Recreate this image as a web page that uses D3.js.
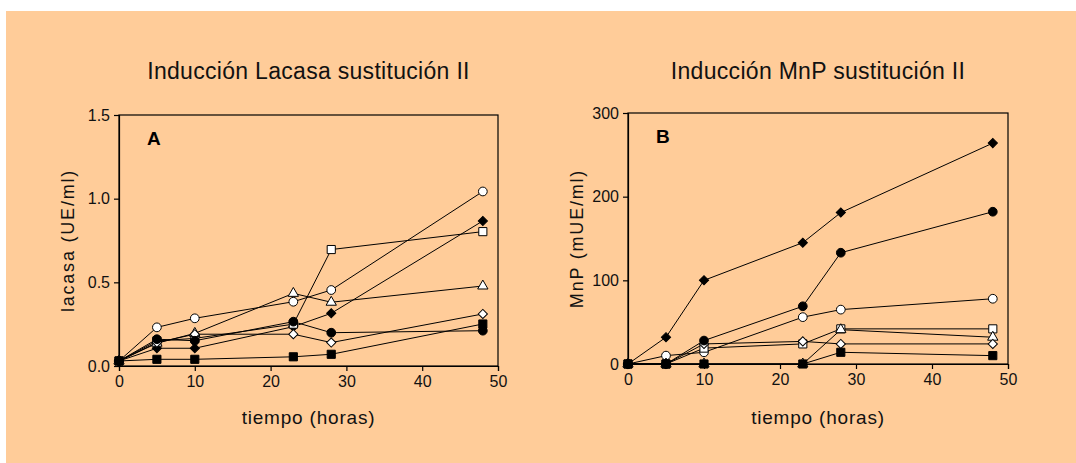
<!DOCTYPE html>
<html><head><meta charset="utf-8">
<script src="https://cdn.jsdelivr.net/npm/d3@7"></script>
<style>html,body{margin:0;padding:0;background:#fff;}svg{display:block;}</style>
</head><body>
<svg id="c" width="1076" height="463"></svg>
<script>
const times = [0, 5, 10, 23, 28, 48];
const xTicks = [0, 10, 20, 30, 40, 50];
const yTicksA = [0, 0.5, 1.0, 1.5];
const yTicksB = [0, 100, 200, 300];
const seriesNames = ["openCircle","filledDiamond","openSquare","openTriangle","openDiamond","filledCircle","filledSquare"];
// Panel A: lacasa (UE/ml)
const lacOpenCircle    = [0.03, 0.231, 0.285, 0.384, 0.454, 1.043];
const lacFilledDiamond = [0.03, 0.106, 0.106, 0.235, 0.315, 0.867];
const lacOpenSquare    = [0.03, 0.150, 0.165, 0.250, 0.696, 0.803];
const lacOpenTriangle  = [0.03, 0.136, 0.195, 0.434, 0.381, 0.478];
const lacOpenDiamond   = [0.03, 0.140, 0.190, 0.190, 0.140, 0.311];
const lacFilledCircle  = [0.03, 0.160, 0.151, 0.265, 0.199, 0.211];
const lacFilledSquare  = [0.03, 0.040, 0.040, 0.055, 0.070, 0.251];
// Panel B: MnP (mUE/ml)
const mnpOpenCircle    = [0, 10, 14, 56, 65, 78];
const mnpFilledDiamond = [0, 32, 100, 145, 181, 264];
const mnpOpenSquare    = [0, 0, 19, 24, 42, 42];
const mnpOpenTriangle  = [0, 0, 0, 0, 41, 32];
const mnpOpenDiamond   = [0, 0, 24, 27, 24, 24];
const mnpFilledCircle  = [0, 0, 28, 69, 133, 182];
const mnpFilledSquare  = [0, 0, 0, 0, 14, 10];

const lacSeries = [lacOpenCircle, lacFilledDiamond, lacOpenSquare, lacOpenTriangle, lacOpenDiamond, lacFilledCircle, lacFilledSquare];
const mnpSeries = [mnpOpenCircle, mnpFilledDiamond, mnpOpenSquare, mnpOpenTriangle, mnpOpenDiamond, mnpFilledCircle, mnpFilledSquare];

const svg = d3.select("#c");
svg.append("rect").attr("x",6).attr("y",11).attr("width",1070).attr("height",452).attr("fill","#FFCC99");

const FONT = "'Liberation Sans', Arial, sans-serif";

const markerStyle = {
  openCircle:   {type: d3.symbolCircle,  size: 60, fill: "#fff", rot: 0},
  filledDiamond:{type: d3.symbolSquare,  size: 42, fill: "#000", rot: 45},
  openSquare:   {type: d3.symbolSquare,  size: 66, fill: "#fff", rot: 0},
  openTriangle: {type: d3.symbolTriangle,size: 46, fill: "#fff", rot: 0},
  openDiamond:  {type: d3.symbolSquare,  size: 42, fill: "#fff", rot: 45},
  filledCircle: {type: d3.symbolCircle,  size: 60, fill: "#000", rot: 0},
  filledSquare: {type: d3.symbolSquare,  size: 66, fill: "#000", rot: 0}
};

function panel(opts) {
  const {x0, x1, y0, y1, yMax, yTicks, yFmt, series, title, ylabel, letter} = opts;
  const x = d3.scaleLinear().domain([0, 50]).range([x0, x1]);
  const y = d3.scaleLinear().domain([0, yMax]).range([y1, y0]);
  const g = svg.append("g");

  g.append("rect").attr("x", x0).attr("y", y0).attr("width", x1 - x0).attr("height", y1 - y0)
    .attr("fill", "none").attr("stroke", "#000").attr("stroke-width", 1.2);

  const ax = g.append("g").attr("transform", `translate(0,${y1})`)
    .call(d3.axisBottom(x).tickValues(xTicks).tickSize(5).tickPadding(5).tickFormat(d3.format("d")));
  const ay = g.append("g").attr("transform", `translate(${x0},0)`)
    .call(d3.axisLeft(y).tickValues(yTicks).tickSize(5).tickPadding(4).tickFormat(yFmt));
  [ax, ay].forEach(a => {
    a.select(".domain").attr("stroke", "#000").attr("stroke-width", 1.2);
    a.selectAll(".tick line").attr("stroke", "#000").attr("stroke-width", 1.2);
    a.selectAll("text").attr("font-family", FONT).attr("font-size", 16).attr("fill", "#111");
  });

  const line = d3.line().x((d, i) => x(times[i])).y(d => y(d));
  series.forEach((s) => {
    g.append("path").attr("d", line(s)).attr("fill", "none").attr("stroke", "#000").attr("stroke-width", 1);
  });
  series.forEach((s, k) => {
    const st = markerStyle[seriesNames[k]];
    const sym = d3.symbol().type(st.type).size(st.size);
    g.selectAll(null).data(s).enter().append("path")
      .attr("d", sym)
      .attr("transform", (d, i) => `translate(${x(times[i])},${y(d)}) rotate(${st.rot})`)
      .attr("fill", st.fill).attr("stroke", "#000").attr("stroke-width", 1);
  });

  const cx = (x0 + x1) / 2;
  svg.append("text").attr("x", cx).attr("y", 79).attr("text-anchor", "middle")
    .attr("font-family", FONT).attr("font-size", 23).attr("letter-spacing", 0.3).attr("fill", "#111").text(title);
  svg.append("text").attr("x", cx).attr("y", 424).attr("text-anchor", "middle")
    .attr("font-family", FONT).attr("font-size", 19).attr("letter-spacing", 0.8).attr("fill", "#111").text("tiempo (horas)");
  svg.append("text").attr("transform", `translate(${x0 - 45},${(y0 + y1) / 2}) rotate(-90)`)
    .attr("text-anchor", "middle").attr("font-family", FONT).attr("font-size", 18).attr("letter-spacing", 1.8)
    .attr("fill", "#111").text(ylabel);
  svg.append("text").attr("x", x0 + 28).attr("y", y0 + 30).attr("font-family", FONT)
    .attr("font-size", 19).attr("font-weight", "bold").attr("fill", "#000").text(letter);
}

panel({x0: 119, x1: 498, y0: 115, y1: 366, yMax: 1.5, yTicks: yTicksA, yFmt: d3.format(".1f"),
  series: lacSeries, title: "Inducción Lacasa sustitución II", ylabel: "lacasa (UE/ml)", letter: "A"});
panel({x0: 628, x1: 1008, y0: 113, y1: 364, yMax: 300, yTicks: yTicksB, yFmt: d3.format("d"),
  series: mnpSeries, title: "Inducción MnP sustitución II", ylabel: "MnP (mUE/ml)", letter: "B"});
</script>
</body></html>
